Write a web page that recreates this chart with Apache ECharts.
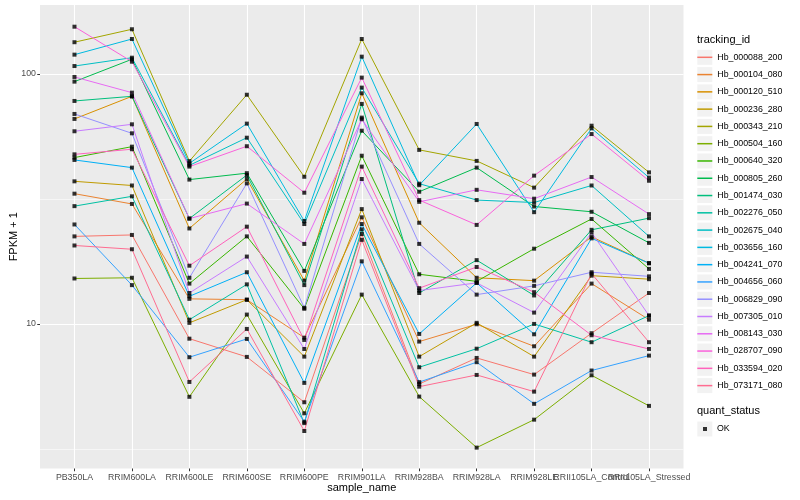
<!DOCTYPE html>
<html><head><meta charset="utf-8">
<script src="https://cdn.jsdelivr.net/npm/echarts@6/dist/echarts.min.js"></script>
<style>html,body{margin:0;padding:0;background:#fff}#c{width:800px;height:500px}</style>
</head><body><div id="c"></div>
<script>
// ---------- data ----------
const categories = ['PB350LA','RRIM600LA','RRIM600LE','RRIM600SE','RRIM600PE','RRIM901LA','RRIM928BA','RRIM928LA','RRIM928LE','RRII105LA_Control','RRII105LA_Stressed'];
const trackingIds = ['Hb_000088_200','Hb_000104_080','Hb_000120_510','Hb_000236_280','Hb_000343_210','Hb_000504_160','Hb_000640_320','Hb_000805_260','Hb_001474_030','Hb_002276_050','Hb_002675_040','Hb_003656_160','Hb_004241_070','Hb_004656_060','Hb_006829_090','Hb_007305_010','Hb_008143_030','Hb_028707_090','Hb_033594_020','Hb_073171_080'];
const hb_000088_200 = [22.4, 22.7, 8.73, 7.38, 4.86, 22.9, 5.75, 7.31, 6.27, 9.18, 13.3];
const hb_000104_080 = [33.2, 30.2, 12.6, 12.5, 8.81, 26.7, 8.50, 9.97, 8.14, 14.5, 10.4];
const hb_000120_510 = [66.1, 81.4, 24.1, 38.0, 14.9, 83.7, 25.4, 15.3, 14.9, 22.3, 17.5];
const hb_000236_280 = [37.2, 35.8, 10.1, 12.5, 7.40, 28.8, 7.40, 10.1, 7.40, 15.6, 15.1];
const hb_000343_210 = [134, 151, 44.8, 82.6, 38.8, 138, 49.7, 44.9, 35.1, 62.1, 40.4];
const hb_000504_160 = [15.2, 15.3, 5.11, 10.9, 4.39, 13.1, 5.12, 3.20, 4.14, 6.23, 4.70];
const hb_000640_320 = [46.3, 51.2, 14.5, 22.4, 11.5, 47.1, 15.8, 14.8, 20.0, 26.3, 16.6];
const hb_000805_260 = [93.2, 114.5, 37.8, 40.1, 16.3, 59.3, 33.8, 42.2, 29.5, 28.1, 21.1];
const hb_001474_030 = [78.0, 81.4, 26.4, 39.4, 14.3, 75.9, 13.3, 18.0, 13.0, 23.8, 26.5];
const hb_002276_050 = [29.6, 32.4, 10.4, 14.4, 4.01, 23.9, 6.71, 7.96, 10.0, 8.45, 10.8];
const hb_002675_040 = [107.6, 116.2, 43.1, 55.6, 25.1, 88.2, 36.4, 31.3, 30.6, 35.8, 22.4];
const hb_003656_160 = [119.5, 138, 43.9, 63.3, 25.8, 117.3, 35.9, 63.1, 28.0, 60.6, 38.5];
const hb_004241_070 = [45.3, 42.2, 12.9, 16.1, 5.81, 25.1, 9.12, 14.6, 9.09, 22.0, 17.5];
const hb_004656_060 = [25.0, 14.3, 7.36, 8.71, 4.06, 17.8, 5.85, 7.03, 4.79, 6.51, 7.47];
const hb_006829_090 = [69.2, 57.9, 15.3, 36.5, 11.6, 66.9, 20.9, 13.1, 14.2, 16.1, 15.5];
const hb_007305_010 = [59.0, 62.9, 13.3, 18.6, 7.94, 38.0, 13.6, 14.6, 11.1, 23.2, 10.8];
const hb_008143_030 = [97.3, 84.2, 26.4, 30.3, 20.9, 65.9, 30.8, 34.4, 31.7, 38.7, 27.5];
const hb_028707_090 = [154.6, 112, 42.6, 51.4, 33.5, 96.7, 31.3, 24.9, 39.2, 57.5, 37.4];
const hb_033594_020 = [47.7, 50.0, 17.1, 24.5, 8.63, 42.6, 13.9, 16.9, 13.4, 9.01, 7.94];
const hb_073171_080 = [20.6, 19.9, 5.86, 9.55, 3.73, 21.7, 5.61, 6.25, 5.36, 15.9, 8.45];
const seriesValues = [hb_000088_200, hb_000104_080, hb_000120_510, hb_000236_280, hb_000343_210, hb_000504_160, hb_000640_320, hb_000805_260, hb_001474_030, hb_002276_050, hb_002675_040, hb_003656_160, hb_004241_070, hb_004656_060, hb_006829_090, hb_007305_010, hb_008143_030, hb_028707_090, hb_033594_020, hb_073171_080];
const yTickValues = [10, 100];
const yMinorValues = [3.1623, 31.623];
const quantStatus = 'OK';

// ---------- style ----------
const colors = ['#F8766D','#EA8331','#D89000','#C09B00','#A3A500','#7CAE00','#39B600','#00BB4E','#00BF7D','#00C1A3','#00BFC4','#00BAE0','#00B0F6','#35A2FF','#9590FF','#C77CFF','#E76BF3','#FA62DB','#FF62BC','#FF6C91'];
const FONT = '"Liberation Sans", Arial, sans-serif';
const Y_MIN = 2.64, Y_MAX = 188.8;
const LEG_X = 697, LEG_Y0 = 57.3, LEG_STEP = 17.28;

const chart = echarts.init(document.getElementById('c'));
const idx = categories.map((_, i) => i);
const evenIdx = idx.filter(i => i % 2 === 0);
const oddIdx = idx.filter(i => i % 2 === 1);

const lineSeries = trackingIds.map((id, k) => ({
  name: id, type: 'line',
  data: seriesValues[k].map((v, i) => [i, v]),
  symbol: 'none', showSymbol: false,
  lineStyle: { color: colors[k], width: 1 },
  itemStyle: { color: colors[k] },
  z: 2, silent: true
}));
const pts = [];
seriesValues.forEach(arr => arr.forEach((v, i) => pts.push([i, v])));
const pointSeries = {
  name: quantStatus, type: 'scatter', data: pts,
  symbol: 'rect', symbolSize: 4,
  itemStyle: { color: '#000' }, z: 5, silent: true
};

const graphics = [
  { type: 'text', left: LEG_X, top: 40.7 - 6.5, style: { text: 'tracking_id', fontSize: 11, fill: '#000', fontFamily: FONT } },
  { type: 'text', left: LEG_X, top: 411.7 - 6.5, style: { text: 'quant_status', fontSize: 11, fill: '#000', fontFamily: FONT } }
];
trackingIds.forEach((id, k) => {
  graphics.push({ type: 'rect', shape: { x: LEG_X + 0.3, y: LEG_Y0 + k * LEG_STEP - 7.5, width: 15, height: 15 }, style: { fill: '#F2F2F2' }, z: -1 });
});
graphics.push({ type: 'rect', shape: { x: LEG_X + 0.3, y: 429 - 7.5, width: 15, height: 15 }, style: { fill: '#F2F2F2' }, z: -1 });

const xLabelStyle = { formatter: v => categories[Math.round(v)], fontSize: 8.8, color: '#4D4D4D', margin: 5, fontFamily: FONT, hideOverlap: false, showMinLabel: true, showMaxLabel: true };
const tickStyle = { show: true, length: 2.75, lineStyle: { color: '#333333', width: 1 } };

chart.setOption({
  animation: false,
  backgroundColor: '#fff',
  grid: { left: 40, right: 116.5, top: 5, bottom: 31.5, show: true, backgroundColor: '#EBEBEB', borderWidth: 0, containLabel: false, outerBoundsMode: 'none' },
  xAxis: [{
    type: 'value', min: -0.6, max: 10.6, position: 'bottom',
    axisLine: { show: false, onZero: false },
    axisTick: Object.assign({ customValues: evenIdx }, tickStyle),
    axisLabel: Object.assign({ customValues: evenIdx }, xLabelStyle),
    splitLine: { show: true, lineStyle: { color: '#FFFFFF', width: 1.1 } },
    name: 'sample_name', nameLocation: 'middle', nameGap: 14, nameMoveOverlap: false,
    nameTextStyle: { fontSize: 11, color: '#000', fontFamily: FONT }
  }, {
    type: 'value', min: -0.6, max: 10.6, position: 'bottom', offset: 0,
    axisLine: { show: false, onZero: false },
    axisTick: Object.assign({ customValues: oddIdx }, tickStyle),
    axisLabel: Object.assign({ customValues: oddIdx }, xLabelStyle),
    splitLine: { show: true, lineStyle: { color: '#FFFFFF', width: 1.1 } }
  }],
  yAxis: [{
    type: 'log', logBase: 10, min: Y_MIN, max: Y_MAX, position: 'left',
    axisLine: { show: false, onZero: false },
    axisTick: Object.assign({ customValues: yTickValues }, tickStyle),
    axisLabel: { customValues: yTickValues, formatter: v => String(Math.round(v)), fontSize: 8.8, color: '#4D4D4D', margin: 4, fontFamily: FONT },
    splitLine: { show: true, lineStyle: { color: '#FFFFFF', width: 1.1 } },
    name: 'FPKM + 1', nameLocation: 'middle', nameGap: 21, nameRotate: 90, nameMoveOverlap: false,
    nameTextStyle: { fontSize: 11, color: '#000', fontFamily: FONT }
  }, {
    type: 'log', logBase: 10, min: Y_MIN, max: Y_MAX, position: 'left',
    axisLine: { show: false, onZero: false },
    axisTick: { show: false, customValues: yMinorValues },
    axisLabel: { show: false, customValues: yMinorValues },
    splitLine: { show: true, lineStyle: { color: '#FFFFFF', width: 0.55 } }
  }],
  legend: [{
    data: trackingIds, orient: 'vertical', left: LEG_X + 0.3, top: LEG_Y0 - LEG_STEP / 2,
    icon: 'rect', itemWidth: 15, itemHeight: 1.5, itemGap: 0, padding: 0, selectedMode: false,
    textStyle: { fontSize: 8.8, color: '#000', fontFamily: FONT, lineHeight: LEG_STEP }
  }, {
    data: [quantStatus], orient: 'vertical', left: 703, top: 429 - 6,
    itemWidth: 4, itemHeight: 4, itemGap: 0, padding: 0, selectedMode: false, icon: 'rect',
    itemStyle: { color: '#000' },
    textStyle: { fontSize: 8.8, color: '#000', fontFamily: FONT, padding: [0, 0, 0, 5], lineHeight: 12 }
  }],
  graphic: graphics,
  series: [...lineSeries, pointSeries]
});
</script></body></html>
